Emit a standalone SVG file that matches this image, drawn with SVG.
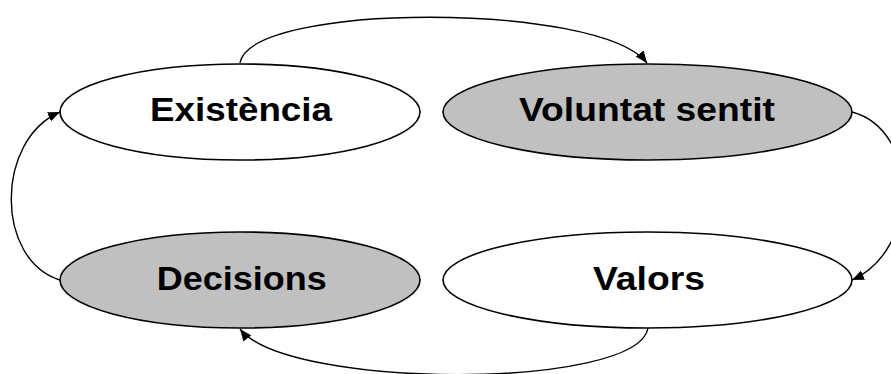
<svg xmlns="http://www.w3.org/2000/svg" width="891" height="374" viewBox="0 0 891 374">
<style>
.node{stroke:#000;stroke-width:1.6}
.w{fill:#fff}
.g{fill:#c0c0c0}
.lbl{font-family:"Liberation Sans",Arial,sans-serif;font-weight:bold;font-size:32.5px;fill:#000;text-anchor:middle}
.edge{fill:none;stroke:#000;stroke-width:1.4;marker-end:url(#arr)}
</style>
<defs>
<marker id="arr" viewBox="0 0 12 10" refX="12" refY="5" markerWidth="12" markerHeight="10" markerUnits="userSpaceOnUse" orient="auto">
<path d="M0,0 L12,5 L0,10 z" fill="#000"/>
</marker>
</defs>
<rect width="891" height="374" fill="#fff"/>
<g id="existencia">
<ellipse class="node w" cx="240" cy="112" rx="180" ry="48"/>
<text class="lbl" x="241" y="121" textLength="182" lengthAdjust="spacingAndGlyphs">Existència</text>
</g>
<g id="voluntat">
<ellipse class="node g" cx="647.5" cy="112" rx="204.5" ry="48"/>
<text class="lbl" x="647" y="121" textLength="256" lengthAdjust="spacingAndGlyphs">Voluntat sentit</text>
</g>
<g id="decisions">
<ellipse class="node g" cx="240" cy="280" rx="180" ry="48"/>
<text class="lbl" x="241.7" y="290" textLength="170" lengthAdjust="spacingAndGlyphs">Decisions</text>
</g>
<g id="valors">
<ellipse class="node w" cx="647.5" cy="280" rx="204.5" ry="48"/>
<text class="lbl" x="649" y="289.5" textLength="112" lengthAdjust="spacingAndGlyphs">Valors</text>
</g>
<g id="connectors">
<path class="edge" d="M240,63 C250,2 600,2 647,63"/>
<path class="edge" d="M852,112 C920,130 920,250 852,280"/>
<path class="edge" d="M648,328 C638,390 288,390 240,329"/>
<path class="edge" d="M60,280 C-5,260 -5,140 60,112"/>
</g>
</svg>
